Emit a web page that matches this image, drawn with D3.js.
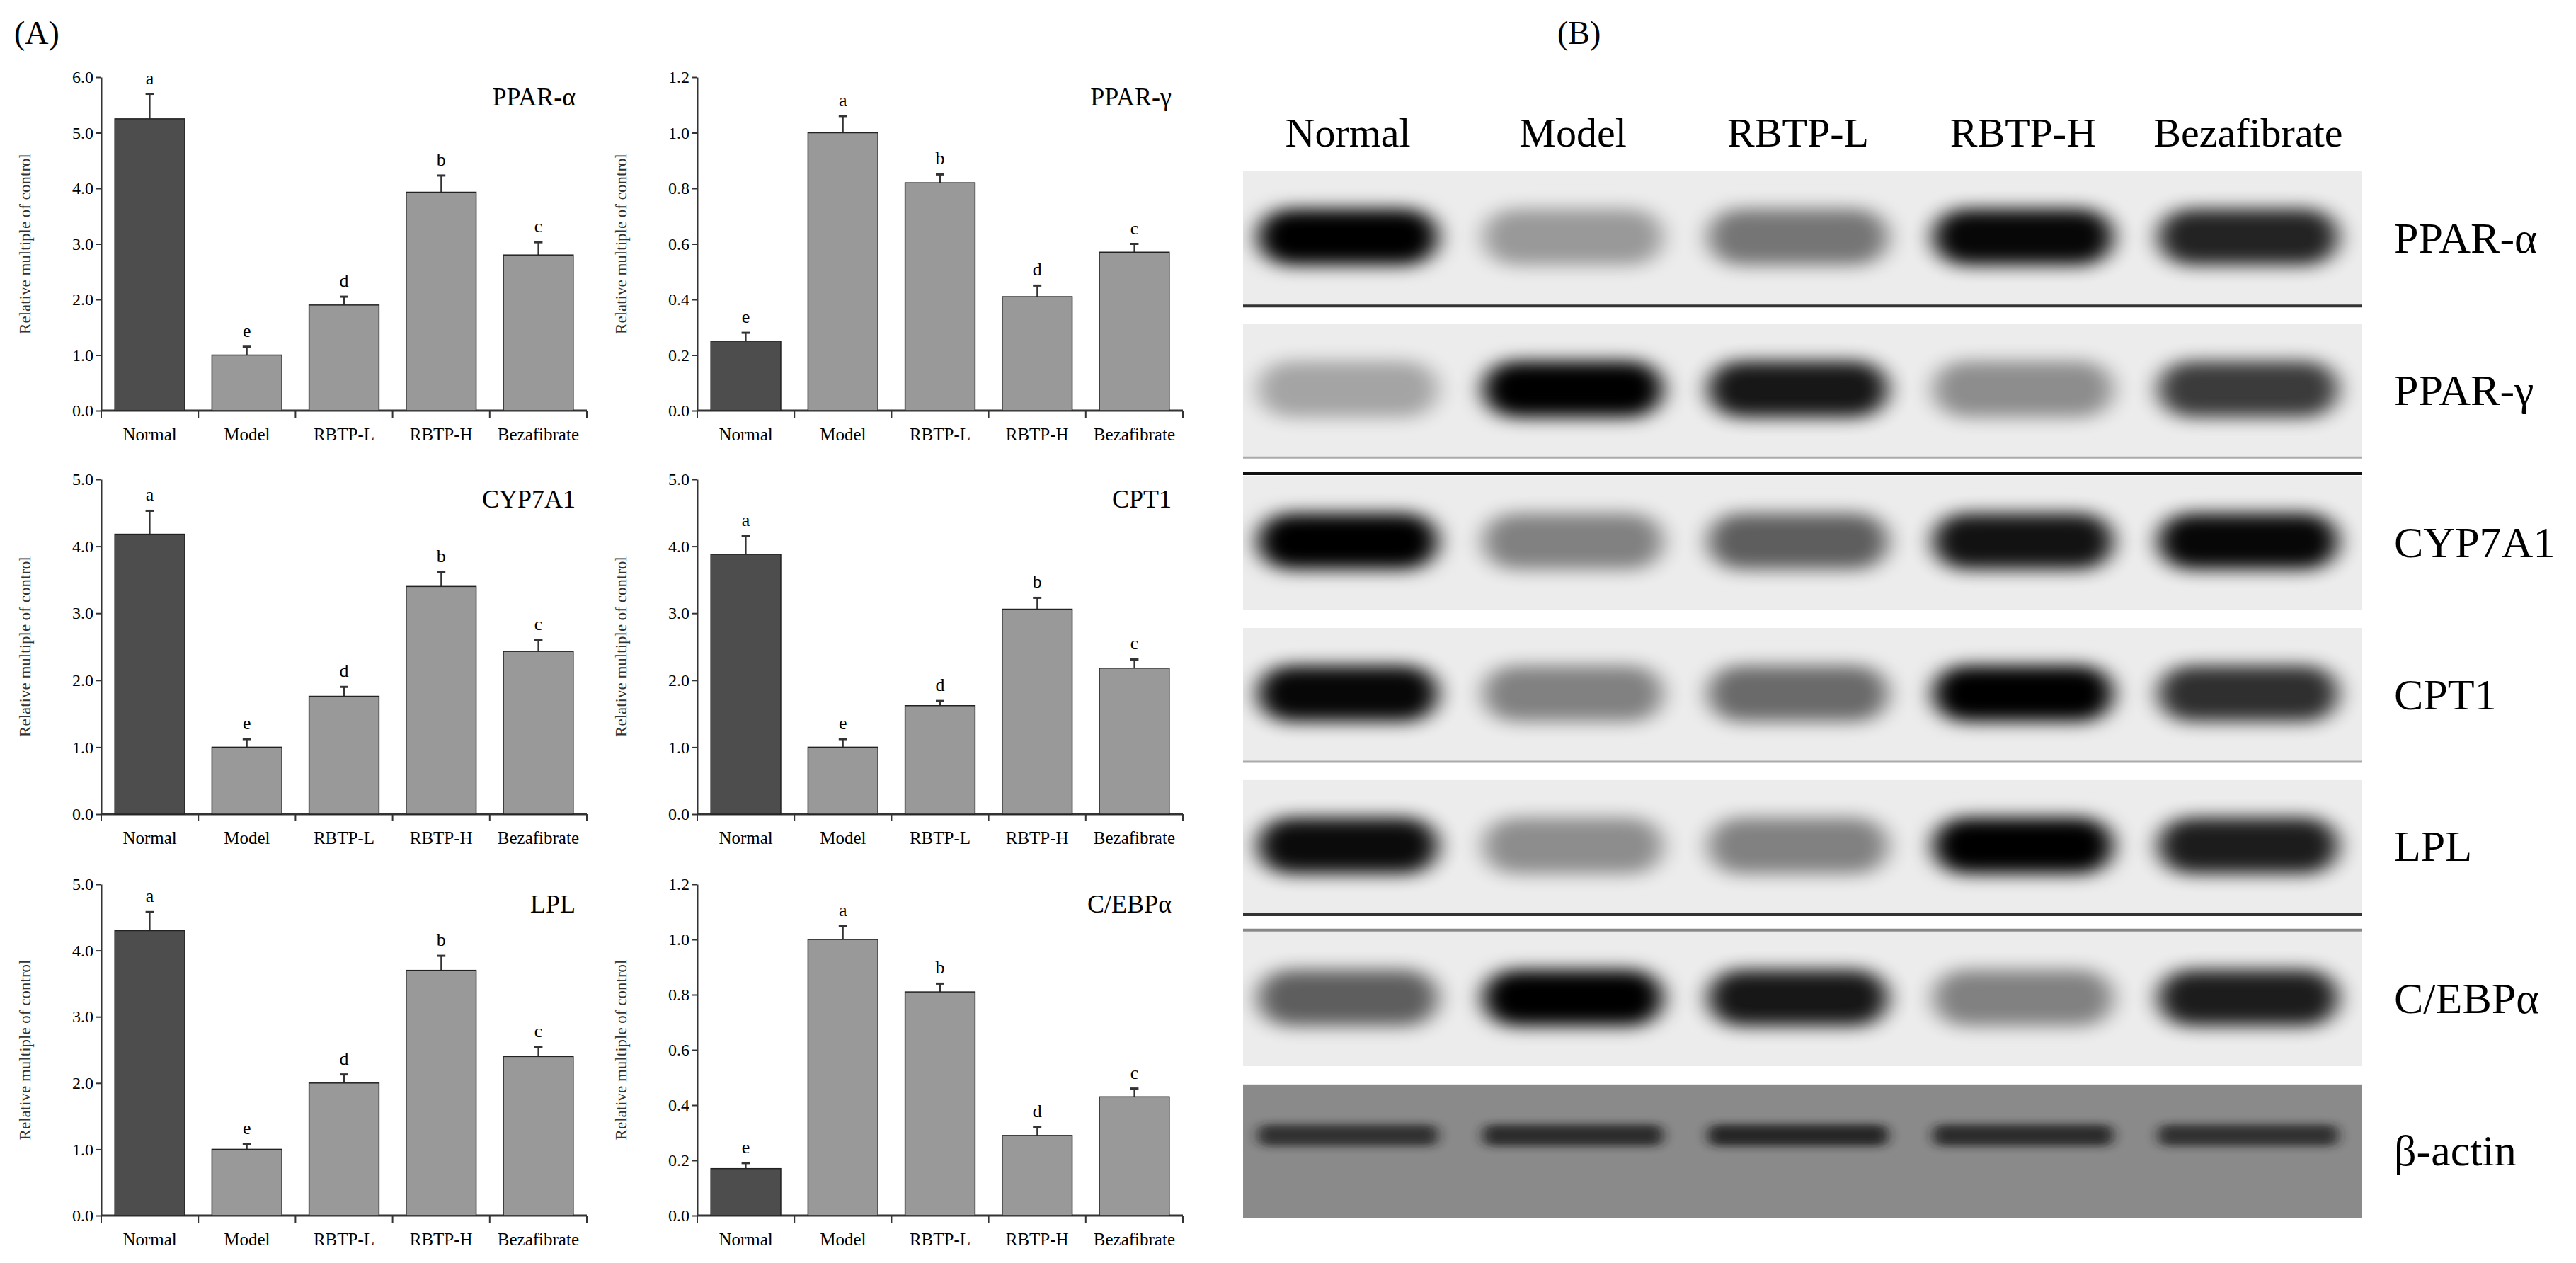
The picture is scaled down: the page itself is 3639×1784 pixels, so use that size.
<!DOCTYPE html>
<html><head><meta charset="utf-8">
<script src="https://cdn.jsdelivr.net/npm/d3@7"></script>
<style>body{margin:0;background:#fff}text{font-family:"Liberation Serif","Times New Roman",serif}</style>
</head><body><svg id="c" width="3639" height="1784"></svg>
<script>
const categories = ["Normal","Model","RBTP-L","RBTP-H","Bezafibrate"];
const genes = ["PPAR-α","PPAR-γ","CYP7A1","CPT1","LPL","C/EBPα"];
const yMax = [6,1.2,5,5,5,1.2];
const yStep = [1,0.2,1,1,1,0.2];
const meanPPARa = [5.25,1.0,1.9,3.93,2.8];
const errPPARa  = [0.45,0.15,0.15,0.3,0.23];
const meanPPARg = [0.25,1.0,0.82,0.41,0.57];
const errPPARg  = [0.03,0.06,0.03,0.04,0.03];
const meanCYP = [4.18,1.0,1.76,3.4,2.43];
const errCYP  = [0.35,0.12,0.14,0.22,0.17];
const meanCPT = [3.88,1.0,1.62,3.06,2.18];
const errCPT  = [0.27,0.12,0.07,0.17,0.13];
const meanLPL = [4.3,1.0,2.0,3.7,2.4];
const errLPL  = [0.28,0.08,0.13,0.22,0.14];
const meanCEBP = [0.17,1.0,0.81,0.29,0.43];
const errCEBP  = [0.02,0.05,0.03,0.03,0.03];
const lettersPPARa=["a","e","d","b","c"], lettersPPARg=["e","a","b","d","c"];
const lettersCYP=["a","e","d","b","c"], lettersCPT=["a","e","d","b","c"];
const lettersLPL=["a","e","d","b","c"], lettersCEBP=["e","a","b","d","c"];
const means=[meanPPARa,meanPPARg,meanCYP,meanCPT,meanLPL,meanCEBP];
const errs=[errPPARa,errPPARg,errCYP,errCPT,errLPL,errCEBP];
const letters=[lettersPPARa,lettersPPARg,lettersCYP,lettersCPT,lettersLPL,lettersCEBP];
// western blot band darkness (estimated)
const blotProteins=["PPAR-α","PPAR-γ","CYP7A1","CPT1","LPL","C/EBPα","β-actin"];
const bandPPARa=[1.0,0.35,0.5,0.97,0.85];
const bandPPARg=[0.3,1.0,0.9,0.4,0.75];
const bandCYP=[1.0,0.45,0.6,0.92,0.97];
const bandCPT=[0.97,0.45,0.55,1.0,0.8];
const bandLPL=[0.95,0.4,0.45,1.0,0.88];
const bandCEBP=[0.6,1.0,0.9,0.45,0.88];
const bandActin=[0.8,0.85,0.9,0.85,0.8];
const bands=[bandPPARa,bandPPARg,bandCYP,bandCPT,bandLPL,bandCEBP,bandActin];

const svg=d3.select("#c");
const defs=svg.append("defs");
defs.append("filter").attr("id","blur").attr("x","-50%").attr("y","-80%").attr("width","200%").attr("height","260%")
 .append("feGaussianBlur").attr("stdDeviation","16 12");
defs.append("filter").attr("id","blur2").attr("x","-50%").attr("y","-80%").attr("width","200%").attr("height","260%")
 .append("feGaussianBlur").attr("stdDeviation","9 6");

svg.append("text").attr("x",20).attr("y",62).attr("font-size",46).text("(A)");
svg.append("text").attr("x",2200).attr("y",62).attr("font-size",46).text("(B)");

const colX=[143,985], colW=686;
const rows=[[109,580],[677,1150],[1249,1717]];
genes.forEach((g,i)=>{
  const c=i%2, r=Math.floor(i/2);
  const x0=colX[c], x1=x0+colW, yT=rows[r][0], yB=rows[r][1];
  const x=d3.scaleBand().domain(categories).range([x0,x1]).paddingInner(0.28).paddingOuter(0.14);
  const y=d3.scaleLinear().domain([0,yMax[i]]).range([yB,yT]);
  const G=svg.append("g");
  const ticks=d3.range(0,yMax[i]+1e-9,yStep[i]);
  const ya=G.append("g").attr("transform",`translate(${x0},0)`)
    .call(d3.axisLeft(y).tickValues(ticks).tickFormat(d3.format(".1f")).tickSize(8).tickSizeOuter(0));
  ya.selectAll("text").attr("font-size",24).attr("font-family","Liberation Serif");
  ya.selectAll("line,path").attr("stroke","#333").attr("stroke-width",2);
  const xa=G.append("g").attr("transform",`translate(0,${yB})`);
  xa.append("line").attr("x1",x0).attr("x2",x1).attr("stroke","#333").attr("stroke-width",3);
  d3.range(6).forEach(k=>{const xx=x0+k*(colW/5);
    xa.append("line").attr("x1",xx).attr("x2",xx).attr("y1",0).attr("y2",10).attr("stroke","#333").attr("stroke-width",2);});
  xa.selectAll("text.cat").data(categories).join("text").attr("class","cat")
    .attr("x",d=>x(d)+x.bandwidth()/2).attr("y",42).attr("text-anchor","middle").attr("font-size",25).text(d=>d);
  G.selectAll("line.err").data(categories).join("line").attr("class","err")
    .attr("x1",d=>x(d)+x.bandwidth()/2).attr("x2",d=>x(d)+x.bandwidth()/2)
    .attr("y1",(d,k)=>y(means[i][k])).attr("y2",(d,k)=>y(means[i][k]+errs[i][k])).attr("stroke","#333").attr("stroke-width",2);
  G.selectAll("line.cap").data(categories).join("line").attr("class","cap")
    .attr("x1",d=>x(d)+x.bandwidth()/2-6).attr("x2",d=>x(d)+x.bandwidth()/2+6)
    .attr("y1",(d,k)=>y(means[i][k]+errs[i][k])).attr("y2",(d,k)=>y(means[i][k]+errs[i][k])).attr("stroke","#333").attr("stroke-width",3);
  G.selectAll("rect").data(categories).join("rect")
    .attr("x",d=>x(d)).attr("width",x.bandwidth())
    .attr("y",(d,k)=>y(means[i][k])).attr("height",(d,k)=>yB-y(means[i][k]))
    .attr("fill",(d,k)=>k===0?"#4d4d4d":"#999").attr("stroke","#222").attr("stroke-width",1.5);
  G.selectAll("text.let").data(categories).join("text").attr("class","let")
    .attr("x",d=>x(d)+x.bandwidth()/2).attr("y",(d,k)=>y(means[i][k]+errs[i][k])-14)
    .attr("text-anchor","middle").attr("font-size",26).text((d,k)=>letters[i][k]);
  G.append("text").attr("x",x1-16).attr("y",yT+40).attr("text-anchor","end").attr("font-size",36).text(g);
  G.append("text").attr("transform",`translate(${x0-100},${(yT+yB)/2}) rotate(-90)`)
    .attr("text-anchor","middle").attr("font-size",23).attr("font-family","Liberation Sans,Arial").attr("fill","#333")
    .text("Relative multiple of control");
});

// Panel B
const bx0=1756, bx1=3336;
const lane=d3.scaleBand().domain(categories).range([1769,3311]).paddingInner(0.15);
const stripY=d3.scaleBand().domain(blotProteins).range([242,1721]).paddingInner(0.12);
svg.selectAll("text.lane").data(categories).join("text").attr("class","lane")
  .attr("x",d=>lane(d)+lane.bandwidth()/2).attr("y",207).attr("text-anchor","middle").attr("font-size",58).text(d=>d);
blotProteins.forEach((p,j)=>{
  const sy=stripY(p), sh=stripY.bandwidth();
  const actin=j===6;
  const g=svg.append("g");
  g.append("rect").attr("x",bx0).attr("y",sy).attr("width",bx1-bx0).attr("height",sh).attr("fill",actin?"#8a8a8a":"#ececec");
  const clipId="clip"+j;
  defs.append("clipPath").attr("id",clipId).append("rect").attr("x",bx0).attr("y",sy).attr("width",bx1-bx0).attr("height",sh);
  const bg=g.append("g").attr("clip-path",`url(#${clipId})`);
  bg.selectAll("rect.band").data(categories).join("rect").attr("class","band")
    .attr("x",d=>lane(d)+8).attr("width",lane.bandwidth()-16)
    .attr("y",sy+sh*(actin?0.3:0.28)).attr("height",sh*(actin?0.16:0.42)).attr("rx",actin?12:45)
    .attr("fill",actin?"#1a1a1a":"#000").attr("opacity",(d,k)=>bands[j][k])
    .attr("filter",actin?"url(#blur2)":"url(#blur)");
  if(j===0||j===4) g.append("line").attr("x1",bx0).attr("x2",bx1).attr("y1",sy+sh+1).attr("y2",sy+sh+1).attr("stroke","#333").attr("stroke-width",4);
  if(j===1||j===3) g.append("line").attr("x1",bx0).attr("x2",bx1).attr("y1",sy+sh).attr("y2",sy+sh).attr("stroke","#aaa").attr("stroke-width",3);
  if(j===2||j===5) g.append("line").attr("x1",bx0).attr("x2",bx1).attr("y1",sy-3).attr("y2",sy-3).attr("stroke",j===2?"#111":"#888").attr("stroke-width",4);
  g.append("text").attr("x",3382).attr("y",sy+sh/2+20).attr("font-size",62).text(p);
});
</script></body></html>
